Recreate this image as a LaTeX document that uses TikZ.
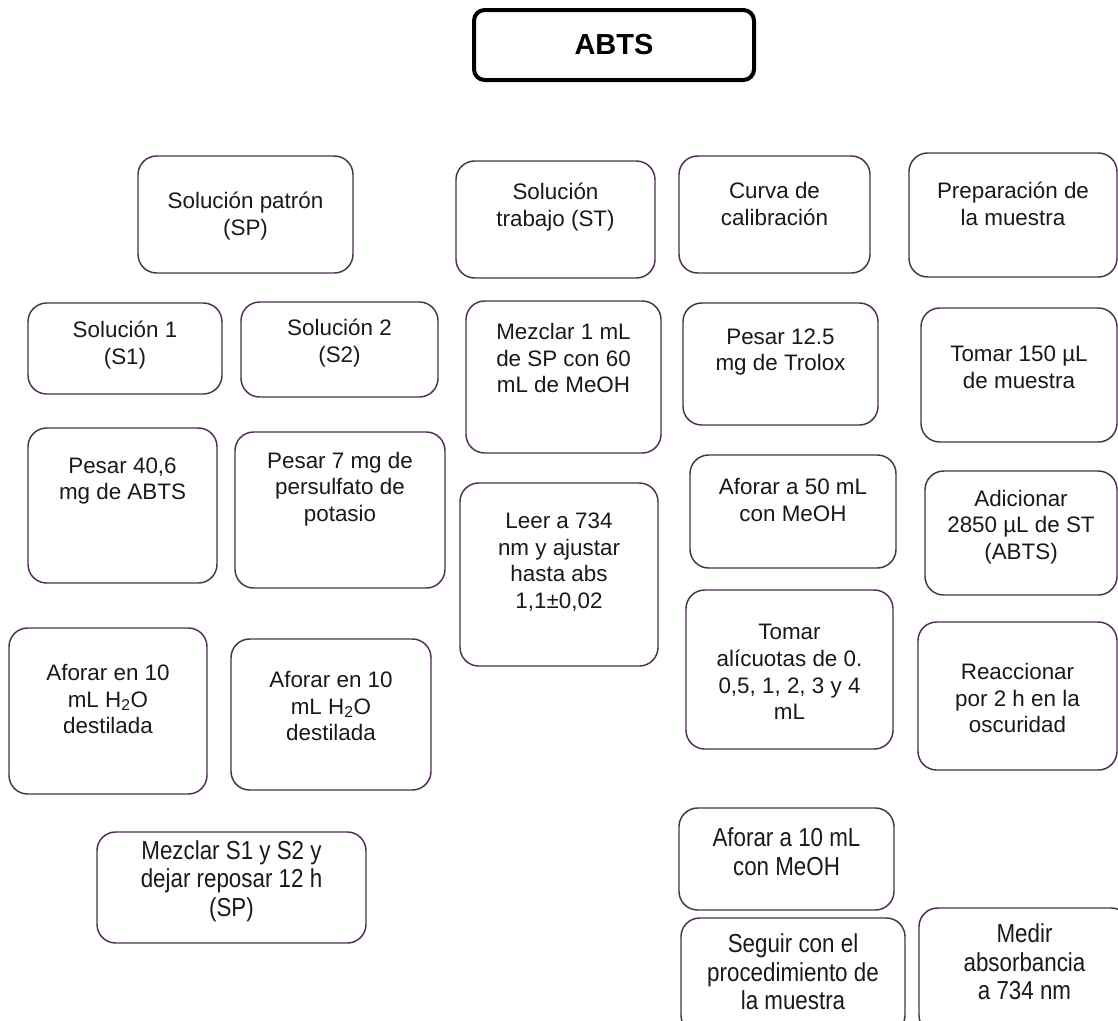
\documentclass[tikz,border=0pt]{standalone}
\usepackage{fontspec}
\setmainfont{Liberation Sans}
\newfontfamily\narrowfont[FakeStretch=0.86]{Liberation Sans}
\usetikzlibrary{fit}
\definecolor{bordc}{RGB}{78,48,82}
\definecolor{txtc}{RGB}{25,25,25}
\tikzset{
  bx/.style={draw=bordc, line width=1.1pt, rounded corners=14pt, inner sep=0pt},
  titlebx/.style={draw=black, line width=3pt, rounded corners=8pt, inner sep=0pt},
  txt/.style={align=center, text=txtc, inner sep=0pt, font=\fontsize{16.8pt}{20pt}\selectfont},
  txtbig/.style={align=center, text=txtc, inner sep=0pt, font=\narrowfont\fontsize{19.5pt}{21.5pt}\selectfont},
}
\newcommand\ibox[8][txt]{%
  \node[bx, fit={(#3,#4) (#5,#6)}] (#2) {};
  \node[#1] (#2-t) at ({(#3+#5)/2},#7) {#8};
}
\begin{document}
\begin{tikzpicture}[x=0.75pt,y=-0.75pt]
\useasboundingbox (0,0) rectangle (1118,1021);
\clip (0,0) rectangle (1118,1021);
% title
\node[titlebx, fit={(474,10) (754,80)}] (abts) {};
\node[font=\fontsize{21.75pt}{24pt}\selectfont\bfseries, inner sep=0pt] (abts-t) at (614,45) {ABTS};
% row 1
\ibox{sp}{138}{156}{353}{273}{216}{Solución patrón\\(SP)}
\ibox{st}{456}{161}{655}{278}{207}{Solución\\trabajo (ST)}
\ibox{curva}{679}{156}{870}{273}{204}{Curva de\\calibración}
\ibox{prep}{909}{153}{1117}{277}{204}{Preparación de\\la muestra}
% row 2
\ibox{s1}{28}{303}{222}{394}{345}{Solución 1\\(S1)}
\ibox{s2}{241}{302}{438}{397}{343}{Solución 2\\(S2)}
\ibox{mez1}{466}{301}{661}{453}{358}{Mezclar 1 mL\\de SP con 60\\mL de MeOH}
\ibox{pes12}{683}{303}{878}{425}{352}{Pesar 12.5\\mg de Trolox}
\ibox{tom150}{921}{308}{1117}{442}{367}{Tomar 150 µL\\de muestra}
% row 3
\ibox{pes40}{28}{428}{217}{583}{481}{Pesar 40,6\\mg de ABTS}
\ibox{pes7}{235}{432}{445}{588}{489}{Pesar 7 mg de\\persulfato de\\potasio}
\ibox{leer}{460}{483}{658}{666}{562}{Leer a 734\\nm y ajustar\\hasta abs\\1,1±0,02}
\ibox{afo50}{690}{455}{896}{568}{500}{Aforar a 50 mL\\con MeOH}
\ibox{adic}{925}{471}{1117}{595}{527}{Adicionar\\2850 µL de ST\\(ABTS)}
% row 4
\ibox{afoL}{9}{628}{207}{794}{699}{Aforar en 10\\mL H\textsubscript{2}O\\destilada}
\ibox{afoR}{231}{639}{431}{790}{706}{Aforar en 10\\mL H\textsubscript{2}O\\destilada}
\ibox{tomal}{686}{590}{893}{749}{672}{Tomar\\alícuotas de 0.\\0,5, 1, 2, 3 y 4\\mL}
\ibox{reac}{918}{622}{1117}{770}{698}{Reaccionar\\por 2 h en la\\oscuridad}
% bottom
\ibox[txtbig]{mezS}{97}{832}{366}{943}{881}{Mezclar S1 y S2 y\\dejar reposar 12 h\\(SP)}
\ibox[txtbig]{afo10}{679}{808}{894}{910}{852}{Aforar a 10 mL\\con MeOH}
\ibox[txtbig]{seguir}{681}{918}{905}{1034}{972}{Seguir con el\\procedimiento de\\la muestra}
\ibox[txtbig]{medir}{919}{908}{1130}{1034}{962}{Medir\\absorbancia\\a 734 nm}
\end{tikzpicture}
\end{document}
